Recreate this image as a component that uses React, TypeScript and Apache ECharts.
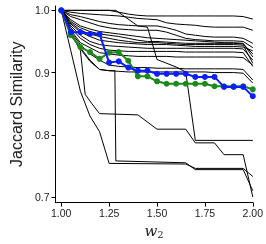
import React, { useEffect, useRef } from "react";
import * as echarts from "echarts";

const XS = [1.0, 1.05, 1.1, 1.15, 1.2, 1.25, 1.3, 1.35, 1.4, 1.45, 1.5, 1.55, 1.6, 1.65, 1.7, 1.75, 1.8, 1.85, 1.9, 1.95, 2.0];
const X_TICKS = [1.0, 1.25, 1.5, 1.75, 2.0];
const Y_TICKS = [0.7, 0.8, 0.9, 1.0];

const BLUE = [1.0, 0.965, 0.965, 0.962, 0.962, 0.916, 0.918, 0.908, 0.903, 0.903, 0.898, 0.898, 0.898, 0.898, 0.893, 0.893, 0.893, 0.877, 0.877, 0.877, 0.862];
const GREEN = [1.0, 0.96, 0.941, 0.933, 0.922, 0.932, 0.933, 0.919, 0.894, 0.894, 0.886, 0.882, 0.882, 0.882, 0.882, 0.882, 0.878, 0.878, 0.878, 0.878, 0.873];

// black lines sampled on XS
const B1 = [1.0, 1.0, 1.0, 1.0, 1.0, 1.0, 0.997, 0.994, 0.992, 0.991, 0.991, 0.991, 0.991, 0.991, 0.991, 0.991, 0.991, 0.991, 0.991, 0.99, 0.986];
const B2 = [1.0, 0.997, 0.995, 0.994, 0.993, 0.992, 0.991, 0.989, 0.987, 0.986, 0.985, 0.98, 0.978, 0.977, 0.976, 0.974, 0.973, 0.973, 0.973, 0.973, 0.968];
const B4 = [1.0, 0.993, 0.99, 0.986, 0.982, 0.979, 0.977, 0.976, 0.975, 0.975, 0.975, 0.972, 0.968, 0.962, 0.96, 0.958, 0.957, 0.957, 0.957, 0.955, 0.947];
const B5 = [1.0, 0.99, 0.985, 0.98, 0.975, 0.972, 0.97, 0.969, 0.968, 0.968, 0.968, 0.965, 0.96, 0.955, 0.953, 0.952, 0.951, 0.951, 0.951, 0.95, 0.94];
const B6 = [1.0, 0.985, 0.975, 0.97, 0.966, 0.964, 0.962, 0.96, 0.958, 0.956, 0.955, 0.954, 0.953, 0.952, 0.951, 0.95, 0.949, 0.948, 0.948, 0.947, 0.925];
const B7 = [1.0, 0.982, 0.972, 0.966, 0.962, 0.96, 0.958, 0.955, 0.952, 0.95, 0.95, 0.949, 0.948, 0.947, 0.947, 0.947, 0.947, 0.947, 0.947, 0.946, 0.93];
const B8 = [1.0, 0.98, 0.968, 0.962, 0.958, 0.955, 0.952, 0.95, 0.948, 0.948, 0.948, 0.947, 0.946, 0.945, 0.945, 0.945, 0.945, 0.945, 0.945, 0.944, 0.915];
const B9 = [1.0, 0.978, 0.965, 0.958, 0.952, 0.95, 0.948, 0.947, 0.946, 0.945, 0.945, 0.945, 0.944, 0.943, 0.942, 0.942, 0.942, 0.942, 0.942, 0.941, 0.935];
const B10 = [1.0, 0.975, 0.96, 0.95, 0.945, 0.943, 0.942, 0.941, 0.94, 0.939, 0.939, 0.939, 0.939, 0.939, 0.939, 0.939, 0.939, 0.939, 0.939, 0.938, 0.92];
const B11 = [1.0, 0.972, 0.955, 0.945, 0.939, 0.936, 0.935, 0.934, 0.934, 0.934, 0.934, 0.934, 0.934, 0.933, 0.933, 0.933, 0.933, 0.933, 0.933, 0.932, 0.91];
const B12 = [1.0, 0.968, 0.948, 0.94, 0.932, 0.93, 0.928, 0.927, 0.926, 0.926, 0.926, 0.926, 0.925, 0.925, 0.925, 0.925, 0.925, 0.925, 0.925, 0.924, 0.912];
const B13 = [1.0, 0.965, 0.945, 0.93, 0.92, 0.912, 0.91, 0.909, 0.908, 0.908, 0.907, 0.907, 0.907, 0.906, 0.906, 0.906, 0.906, 0.906, 0.906, 0.905, 0.888];
const B14 = [1.0, 0.962, 0.94, 0.92, 0.905, 0.903, 0.902, 0.901, 0.901, 0.901, 0.901, 0.901, 0.901, 0.901, 0.901, 0.901, 0.9, 0.9, 0.9, 0.899, 0.883];

// black lines with their own x samples
const DROP_X = [1.0, 1.285, 1.4, 1.45, 1.5, 1.6, 1.65, 1.7, 2.0];
const DROP_Y = [1.0, 1.0, 0.975, 0.973, 0.921, 0.909, 0.901, 0.791, 0.791];
const STEP_X = [1.0, 1.05, 1.1, 1.125, 1.16, 1.2, 1.4, 1.5, 1.65, 1.7, 1.8, 1.85, 1.95, 2.0];
const STEP_Y = [1.0, 0.965, 0.935, 0.865, 0.85, 0.834, 0.832, 0.809, 0.809, 0.787, 0.787, 0.768, 0.768, 0.7];
const VERT_X = [1.0, 1.05, 1.1, 1.15, 1.2, 1.25, 1.28, 1.285, 1.65, 1.7, 1.95, 2.0];
const VERT_Y = [1.0, 0.96, 0.938, 0.918, 0.905, 0.903, 0.903, 0.758, 0.755, 0.744, 0.744, 0.71];
const CURVE_X = [1.0, 1.05, 1.1, 1.15, 1.2, 1.25, 1.65, 1.7, 1.95, 2.0];
const CURVE_Y = [1.0, 0.935, 0.87, 0.83, 0.805, 0.754, 0.753, 0.746, 0.746, 0.733];

const zip = (xs: number[], ys: number[]) => ys.map((y, i) => [xs[i], y]);

export default function App() {
  const ref = useRef<HTMLDivElement>(null);
  useEffect(() => {
    const chart = echarts.init(ref.current!, null, { renderer: "svg" });
    const gridLines = [B1, B2, B4, B5, B6, B7, B8, B9, B10, B11, B12, B13, B14].map((ys) => zip(XS, ys));
    const otherLines = [
      zip(DROP_X, DROP_Y),
      zip(STEP_X, STEP_Y),
      zip(VERT_X, VERT_Y),
      zip(CURVE_X, CURVE_Y),
    ];
    const black = [...gridLines, ...otherLines].map((data) => ({
      type: "line",
      data,
      showSymbol: false,
      symbol: "none",
      silent: true,
      lineStyle: { color: "#000", width: 1 },
      z: 1,
    }));
    const labelFont = { fontFamily: "Liberation Sans", fontSize: 10.5, color: "#222" };
    chart.setOption({
      animation: false,
      grid: { left: 43, right: 11, top: 6, bottom: 33 },
      xAxis: {
        type: "value",
        min: 0.97,
        max: 2.0,
        splitLine: { show: false },
        axisLine: { lineStyle: { color: "#000", width: 1 } },
        axisTick: { show: true, length: 4, customValues: X_TICKS, lineStyle: { color: "#000" } },
        axisLabel: { ...labelFont, margin: 5, customValues: X_TICKS, formatter: (v: number) => v.toFixed(2) },
        name: "{w|w}{s|2}",
        nameLocation: "middle",
        nameGap: 20,
        nameTextStyle: {
          rich: {
            w: { fontFamily: "DejaVu Serif", fontStyle: "italic", fontSize: 15, color: "#222" },
            s: { fontFamily: "DejaVu Serif", fontSize: 10, color: "#222", verticalAlign: "bottom", padding: [6, 0, 0, 0] },
          },
        },
      },
      yAxis: {
        type: "value",
        min: 0.691,
        max: 1.007,
        splitLine: { show: false },
        axisLine: { show: true, lineStyle: { color: "#000", width: 1 } },
        axisTick: { show: true, length: 4, customValues: Y_TICKS, lineStyle: { color: "#000" } },
        axisLabel: { ...labelFont, margin: 6, customValues: Y_TICKS, formatter: (v: number) => v.toFixed(1) },
        name: "Jaccard Similarity",
        nameLocation: "middle",
        nameGap: 27,
        nameTextStyle: { fontFamily: "Liberation Sans", fontSize: 16, color: "#222" },
      },
      series: [
        ...black,
        {
          type: "line",
          data: zip(XS, GREEN),
          symbol: "circle",
          symbolSize: 6,
          lineStyle: { color: "#1a8a1a", width: 2 },
          itemStyle: { color: "#1a8a1a" },
          z: 3,
        },
        {
          type: "line",
          data: zip(XS, BLUE),
          symbol: "circle",
          symbolSize: 6,
          lineStyle: { color: "#0a1eff", width: 2 },
          itemStyle: { color: "#0a1eff" },
          z: 4,
        },
      ],
    });
    return () => chart.dispose();
  }, []);
  return <div ref={ref} style={{ position: "fixed", left: 0, top: 0, width: 266, height: 244 }} />;
}
